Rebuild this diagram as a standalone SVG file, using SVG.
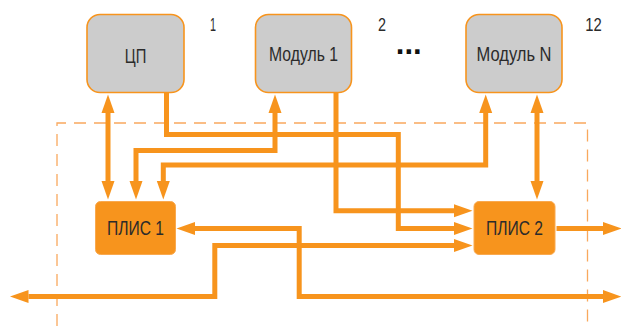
<svg xmlns="http://www.w3.org/2000/svg" width="621" height="326" viewBox="0 0 621 326">
<style>
.top{fill:#cccccc;stroke:#f7941d;stroke-width:1.6}
.fpga{fill:#f7941d;stroke:#f9a94f;stroke-width:1}
.lbl{font-family:"Liberation Sans",Arial,sans-serif;font-size:20px;fill:#2b2b2b;text-anchor:middle}
.num{font-family:"Liberation Sans",Arial,sans-serif;font-size:18.5px;fill:#2b2b2b;text-anchor:middle}
.w{fill:none;stroke:#f7941d;stroke-width:5;stroke-linejoin:miter}
.dash{fill:none;stroke:#f9a85d;stroke-width:1.3;stroke-dasharray:12 8}
</style>
<defs>
<marker id="ah" markerUnits="userSpaceOnUse" markerWidth="19" markerHeight="14" refX="0" refY="6.5" orient="auto-start-reverse" viewBox="0 0 19 13">
<path d="M0,0 L18.5,6.5 L0,13 Z" fill="#f7941d"/>
</marker>
</defs>
<path class="dash" d="M57,326 V123 H587.5 V326"/>
<g id="connectors">
<path class="w" d="M108,113 V181" marker-start="url(#ah)" marker-end="url(#ah)"/>
<path class="w" d="M275,113 V150.5 H136 V181" marker-start="url(#ah)" marker-end="url(#ah)"/>
<path class="w" d="M485.7,113 V165 H163.3 V181" marker-start="url(#ah)" marker-end="url(#ah)"/>
<path class="w" d="M537,113 V181" marker-start="url(#ah)" marker-end="url(#ah)"/>
<path class="w" d="M166.5,92.5 V134.5 H398.3 V228.5 H454" marker-end="url(#ah)"/>
<path class="w" d="M336,92.5 V210.8 H454" marker-end="url(#ah)"/>
<path class="w" d="M556.5,228.5 H603" marker-end="url(#ah)"/>
<path class="w" d="M28.5,296.6 H214.8 V245.5 H454" marker-start="url(#ah)" marker-end="url(#ah)"/>
<path class="w" d="M195,228.6 H299.2 V296.6 H603" marker-start="url(#ah)" marker-end="url(#ah)"/>
</g>
<g id="cpu">
<rect class="top" x="87" y="14.5" width="97" height="78" rx="13"/>
<text class="lbl" x="135.5" y="63" textLength="21.5" lengthAdjust="spacingAndGlyphs">ЦП</text>
<text class="num" x="213" y="30.5" textLength="6" lengthAdjust="spacingAndGlyphs">1</text>
</g>
<g id="module1">
<rect class="top" x="255.5" y="14.5" width="96" height="78" rx="13"/>
<text class="lbl" x="303.5" y="60.5" textLength="69" lengthAdjust="spacingAndGlyphs">Модуль 1</text>
<text class="num" x="382" y="30.5" textLength="8" lengthAdjust="spacingAndGlyphs">2</text>
</g>
<g id="ellipsis">
<text x="408.7" y="53.5" style="font-family:'Liberation Sans',Arial,sans-serif;font-size:31px;font-weight:bold;fill:#111;text-anchor:middle">...</text>
</g>
<g id="moduleN">
<rect class="top" x="466" y="14.5" width="96" height="78" rx="13"/>
<text class="lbl" x="514" y="60.5" textLength="75" lengthAdjust="spacingAndGlyphs">Модуль N</text>
<text class="num" x="593.5" y="30.5" textLength="16.5" lengthAdjust="spacingAndGlyphs">12</text>
</g>
<g id="fpga1">
<rect class="fpga" x="95.5" y="201.5" width="80" height="53" rx="5"/>
<text class="lbl" x="135.5" y="235" textLength="57" lengthAdjust="spacingAndGlyphs">ПЛИС 1</text>
</g>
<g id="fpga2">
<rect class="fpga" x="474" y="201.5" width="81" height="53" rx="5"/>
<text class="lbl" x="514.5" y="235" textLength="57" lengthAdjust="spacingAndGlyphs">ПЛИС 2</text>
</g>
</svg>
